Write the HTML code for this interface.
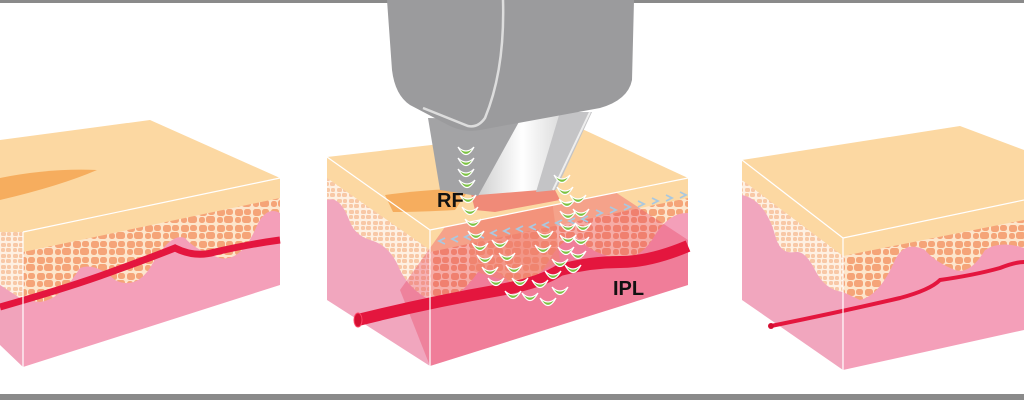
<!DOCTYPE html>
<html><head><meta charset="utf-8"><style>
html,body{margin:0;padding:0;background:#fff;width:1024px;height:400px;overflow:hidden}
svg{display:block}
text{font-family:"Liberation Sans",sans-serif;font-weight:bold}
</style></head><body>
<svg width="1024" height="400" viewBox="0 0 1024 400" xmlns="http://www.w3.org/2000/svg">
<defs>
<pattern id="cells" width="18" height="16" patternUnits="userSpaceOnUse">
<rect width="18" height="16" fill="#fde6cc"/>
<rect x="1" y="1" width="8" height="7" rx="2.5" fill="#f5a478"/>
<rect x="10" y="1" width="7" height="6" rx="2.5" fill="#f5a478"/>
<rect x="1" y="9" width="6" height="6" rx="2.5" fill="#f5a478"/>
<rect x="8" y="8" width="9" height="7" rx="2.5" fill="#f5a478"/>
</pattern>
<pattern id="cellsL" width="12" height="11" patternUnits="userSpaceOnUse">
<rect width="12" height="11" fill="#fef0e2"/>
<rect x="1" y="1" width="5" height="4" rx="1.5" fill="#f8c8a6"/>
<rect x="7" y="1" width="4" height="4" rx="1.5" fill="#f8c8a6"/>
<rect x="1" y="6" width="4" height="4" rx="1.5" fill="#f8c8a6"/>
<rect x="6" y="6" width="5" height="4" rx="1.5" fill="#f8c8a6"/>
</pattern>
<g id="cr"><path d="M-8,-5 Q0,10 8,-5 Q0,3 -8,-5Z" fill="#7cc242" stroke="#fff" stroke-width="1.2"/></g>
<linearGradient id="mid" x1="0" x2="1"><stop offset="0" stop-color="#cfcfcf"/><stop offset=".5" stop-color="#fff"/><stop offset="1" stop-color="#d8d8d8"/></linearGradient>
</defs>

<rect x="0" y="0" width="1024" height="3" fill="#8a8a8a"/>
<rect x="0" y="394" width="1024" height="6" fill="#8a8a8a"/>

<!-- LEFT BLOCK -->
<polygon points="0,250 23,232 23,367 0,345" fill="#f1a3bb"/>
<polygon points="0,232 23,232 23,300 0,285" fill="url(#cellsL)"/>
<polygon points="23,232 280,178 280,285 23,367" fill="#f49fb9"/>
<path d="M23,232 L280,178 L280,213 Q265,205 255,230 Q240,262 220,258 Q195,250 185,238 Q170,232 150,268 Q135,290 115,280 Q95,262 80,268 Q60,300 40,302 L23,300Z" fill="url(#cells)"/>
<polygon points="23,232 280,178 280,198 23,252" fill="#fcd8a2"/>
<path d="M0,307 Q60,290 100,276 Q150,258 175,248 Q195,258 215,252 Q250,244 280,240" fill="none" stroke="#e4163e" stroke-width="7"/>
<polygon points="0,140 150,120 280,178 23,232 0,232" fill="#fcd8a2"/>
<path d="M0,178 Q50,168 97,170 Q60,186 0,200Z" fill="#f6ad5e"/>
<path d="M23,232 L280,178 M23,232 L23,367" stroke="#fff" stroke-width="1.2" fill="none"/>

<!-- MIDDLE BLOCK -->
<polygon points="327,157 430,230 430,366 327,300" fill="#f1a6be"/>
<path d="M327,157 L430,230 L430,300 Q410,290 400,270 Q390,245 370,240 Q355,235 350,222 Q340,195 327,200Z" fill="url(#cellsL)"/>
<polygon points="327,157 430,230 430,250 327,178" fill="#fcd8a2"/>
<polygon points="430,230 688,178 688,285 430,366" fill="#f49fb9"/>
<path d="M430,230 L688,178 L688,213 Q670,212 655,235 Q640,262 615,258 Q590,252 580,240 Q565,232 548,262 Q530,290 510,282 Q490,262 478,272 Q460,298 440,302 L430,300Z" fill="url(#cells)"/>
<polygon points="430,230 688,178 688,198 430,252" fill="#fcd8a2"/>
<polygon points="470,192 600,182 688,240 688,285 430,366 400,290" fill="#e8405f" opacity=".35"/>
<polygon points="470,200 500,180 550,185 560,260 520,285 470,270" fill="#f08770" opacity=".55"/>
<path d="M358,320 Q430,302 500,290 Q540,283 560,270 Q590,262 620,262 Q650,262 688,246" fill="none" stroke="#e4163e" stroke-width="12"/>
<ellipse cx="358" cy="320" rx="4" ry="7" fill="#d40f32" stroke="#f46" stroke-width="1"/>
<polygon points="327,157 580,128 688,178 430,230" fill="#fcd8a2"/>
<path d="M385,195 Q420,190 470,188 L455,210 Q420,212 393,212Z" fill="#f6ad5e"/>
<polygon points="470,190 550,180 560,200 495,212 475,210" fill="#f08a78"/>
<path d="M430,230 L688,178 M430,230 L430,366 M327,157 L430,230" stroke="#fff" stroke-width="1.2" fill="none"/>
<g fill="none" stroke="#a9c8e0" stroke-width="1.8">
<path d="M445,238 l-6,3 6,3 M458,236 l-6,3 6,3 M471,234 l-6,3 6,3 M484,232 l-6,3 6,3 M497,230 l-6,3 6,3 M510,228 l-6,3 6,3 M523,226 l-6,3 6,3 M536,224 l-6,3 6,3 M549,222 l-6,3 6,3 M562,220 l-6,3 6,3 M575,218 l-6,3 6,3 M588,216 l-6,3 6,3"/>
<path d="M596,210 l6,3 -6,3 M610,207 l6,3 -6,3 M624,204 l6,3 -6,3 M638,201 l6,3 -6,3 M652,198 l6,3 -6,3 M666,195 l6,3 -6,3 M680,192 l6,3 -6,3"/>
</g>

<!-- DEVICE -->
<polygon points="505,118 566,112 540,190 478,195" fill="url(#mid)"/>
<polygon points="428,118 520,120 478,196 440,190" fill="#a3a3a5"/>
<polygon points="560,112 592,112 556,190 536,192" fill="#c4c4c6"/>
<line x1="590" y1="112" x2="553" y2="190" stroke="#eee" stroke-width="2"/>
<path d="M387,0 L634,0 L632,80 Q628,100 600,108 L480,130 Q465,133 450,126 L410,105 Q395,95 392,70 Z" fill="#9b9b9d"/>
<path d="M503,0 Q505,70 485,118 Q478,128 468,126 L423,108" fill="none" stroke="#ddd" stroke-width="2.5"/>

<g>
<use href="#cr" x="466" y="152"/><use href="#cr" x="466" y="163"/><use href="#cr" x="466" y="174"/><use href="#cr" x="467" y="185"/>
<use href="#cr" x="468" y="200"/><use href="#cr" x="470" y="212"/><use href="#cr" x="473" y="224"/><use href="#cr" x="476" y="236"/>
<use href="#cr" x="480" y="248"/><use href="#cr" x="485" y="260"/><use href="#cr" x="490" y="272"/><use href="#cr" x="496" y="283"/>
<use href="#cr" x="500" y="245"/><use href="#cr" x="507" y="258"/><use href="#cr" x="514" y="270"/><use href="#cr" x="520" y="283"/><use href="#cr" x="513" y="296"/>
<use href="#cr" x="540" y="285"/><use href="#cr" x="530" y="298"/>
<use href="#cr" x="562" y="180"/><use href="#cr" x="565" y="192"/><use href="#cr" x="567" y="204"/><use href="#cr" x="568" y="216"/>
<use href="#cr" x="568" y="228"/><use href="#cr" x="568" y="240"/><use href="#cr" x="566" y="252"/><use href="#cr" x="560" y="264"/><use href="#cr" x="553" y="276"/>
<use href="#cr" x="578" y="200"/><use href="#cr" x="581" y="214"/><use href="#cr" x="583" y="228"/><use href="#cr" x="581" y="242"/><use href="#cr" x="578" y="256"/><use href="#cr" x="573" y="270"/>
<use href="#cr" x="545" y="236"/><use href="#cr" x="543" y="250"/><use href="#cr" x="560" y="292"/><use href="#cr" x="548" y="303"/>
</g>
<text x="437" y="207" font-size="20" fill="#111">RF</text>
<text x="613" y="295" font-size="20" fill="#111">IPL</text>

<!-- RIGHT BLOCK -->
<polygon points="742,160 843,238 843,370 742,300" fill="#f1a6be"/>
<path d="M742,160 L843,238 L843,292 Q825,290 815,270 Q805,250 795,252 Q780,255 775,235 Q765,200 742,195Z" fill="url(#cellsL)"/>
<polygon points="742,160 843,238 843,256 742,180" fill="#fcd8a2"/>
<polygon points="843,238 1024,200 1024,330 843,370" fill="#f49fb9"/>
<path d="M843,238 L1024,200 L1024,248 Q1000,240 985,250 Q970,275 955,270 Q935,262 925,250 Q905,240 895,260 Q880,295 860,300 L843,292Z" fill="url(#cells)"/>
<polygon points="843,238 1024,200 1024,220 843,256" fill="#fcd8a2"/>
<path d="M771,326 Q840,312 900,298 Q930,290 940,280 Q975,275 1000,268 Q1015,262 1024,262" fill="none" stroke="#e4163e" stroke-width="4"/>
<circle cx="771" cy="326" r="3" fill="#d40f32"/>
<polygon points="742,160 960,126 1024,150 1024,200 843,238" fill="#fcd8a2"/>
<path d="M843,238 L1024,200 M843,238 L843,370 M742,160 L843,238" stroke="#fff" stroke-width="1.2" fill="none"/>
</svg>
</body></html>
